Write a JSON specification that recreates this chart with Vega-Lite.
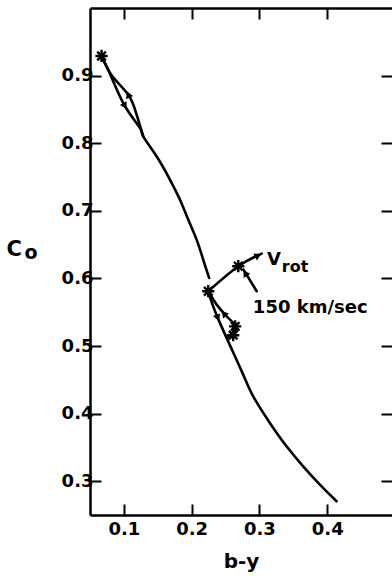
{
  "$schema": "https://vega.github.io/schema/vega-lite/v6.json",
  "width": 302,
  "height": 507,
  "autosize": {"type": "none"},
  "padding": {"left": 90, "top": 8, "right": 0, "bottom": 63},
  "background": "white",
  "config": {
    "view": {"stroke": null},
    "font": "DejaVu Sans",
    "axis": {
      "labelFont": "DejaVu Sans", "labelFontWeight": "bold", "labelFontSize": 18, "labelColor": "black",
      "titleFont": "DejaVu Sans", "titleFontWeight": "bold", "titleFontSize": 19, "titleColor": "black",
      "domainColor": "black", "domainWidth": 2.5, "tickColor": "black", "tickWidth": 2, "tickSize": -11, "grid": false
    }
  },
  "datasets": {
    "lines": [
      {"seg": "upper", "i": 0, "x": 0.067, "y": 0.929},
      {"seg": "upper", "i": 1, "x": 0.082, "y": 0.897},
      {"seg": "upper", "i": 2, "x": 0.1015, "y": 0.855},
      {"seg": "upper", "i": 3, "x": 0.1236, "y": 0.8226},
      {"seg": "upper", "i": 4, "x": 0.1285, "y": 0.8102},
      {"seg": "upper", "i": 5, "x": 0.1482, "y": 0.7806},
      {"seg": "upper", "i": 6, "x": 0.1679, "y": 0.7462},
      {"seg": "upper", "i": 7, "x": 0.1826, "y": 0.7166},
      {"seg": "upper", "i": 8, "x": 0.1949, "y": 0.687},
      {"seg": "upper", "i": 9, "x": 0.2073, "y": 0.6574},
      {"seg": "upper", "i": 10, "x": 0.217, "y": 0.6278},
      {"seg": "upper", "i": 11, "x": 0.2258, "y": 0.6007},
      {"seg": "loop1r", "i": 0, "x": 0.067, "y": 0.929},
      {"seg": "loop1r", "i": 1, "x": 0.083, "y": 0.899},
      {"seg": "loop1r", "i": 2, "x": 0.1064, "y": 0.8719},
      {"seg": "loop1r", "i": 3, "x": 0.1188, "y": 0.8423},
      {"seg": "loop1r", "i": 4, "x": 0.1285, "y": 0.8102},
      {"seg": "vrot", "i": 0, "x": 0.2245, "y": 0.581},
      {"seg": "vrot", "i": 1, "x": 0.2688, "y": 0.618},
      {"seg": "vrot", "i": 2, "x": 0.3034, "y": 0.6367},
      {"seg": "pointer", "i": 0, "x": 0.296, "y": 0.581},
      {"seg": "pointer", "i": 1, "x": 0.2765, "y": 0.613},
      {"seg": "lower", "i": 0, "x": 0.2245, "y": 0.581},
      {"seg": "lower", "i": 1, "x": 0.2385, "y": 0.5416},
      {"seg": "lower", "i": 2, "x": 0.2734, "y": 0.4636},
      {"seg": "lower", "i": 3, "x": 0.2908, "y": 0.4256},
      {"seg": "lower", "i": 4, "x": 0.3154, "y": 0.3862},
      {"seg": "lower", "i": 5, "x": 0.34, "y": 0.3516},
      {"seg": "lower", "i": 6, "x": 0.3645, "y": 0.322},
      {"seg": "lower", "i": 7, "x": 0.3892, "y": 0.295},
      {"seg": "lower", "i": 8, "x": 0.4138, "y": 0.2703},
      {"seg": "loop2r", "i": 0, "x": 0.2245, "y": 0.581},
      {"seg": "loop2r", "i": 1, "x": 0.2369, "y": 0.5612},
      {"seg": "loop2r", "i": 2, "x": 0.2517, "y": 0.5439},
      {"seg": "loop2r", "i": 3, "x": 0.2613, "y": 0.5342},
      {"seg": "loop2r", "i": 4, "x": 0.2663, "y": 0.5243},
      {"seg": "loop2r", "i": 5, "x": 0.2589, "y": 0.517},
      {"seg": "loop2r", "i": 6, "x": 0.2539, "y": 0.5128}
    ],
    "stars": [
      {"x": 0.067, "y": 0.929},
      {"x": 0.2245, "y": 0.581},
      {"x": 0.2688, "y": 0.618},
      {"x": 0.2642, "y": 0.529},
      {"x": 0.2613, "y": 0.516}
    ],
    "arrows": [
      {"x": 0.1015, "y": 0.855, "heading": 150.6},
      {"x": 0.1064, "y": 0.872, "heading": 337},
      {"x": 0.2385, "y": 0.5416, "heading": 159.5},
      {"x": 0.2475, "y": 0.548, "heading": 319.5},
      {"x": 0.298, "y": 0.634, "heading": 61.4},
      {"x": 0.279, "y": 0.608, "heading": 328}
    ],
    "labels": [
      {"kind": "main", "text": "V", "x": 0.311, "y": 0.6204},
      {"kind": "sub", "text": "rot", "x": 0.3331, "y": 0.610},
      {"kind": "main", "text": "150 km/sec", "x": 0.2903, "y": 0.5494}
    ]
  },
  "layer": [
    {
      "data": {"name": "lines"},
      "mark": {"type": "line", "interpolate": "natural", "stroke": "black", "strokeWidth": 2.6, "strokeCap": "round"},
      "encoding": {
        "x": {"field": "x", "type": "quantitative",
          "scale": {"domain": [0.05, 0.4956], "nice": false, "zero": false},
          "axis": {"orient": "bottom", "values": [0.1, 0.2, 0.3, 0.4], "format": ".1f", "title": "b-y", "labelPadding": 16, "titlePadding": 13, "titleFontSize": 20}},
        "y": {"field": "y", "type": "quantitative",
          "scale": {"domain": [0.25, 1.0], "nice": false, "zero": false},
          "axis": {"orient": "left", "values": [0.3, 0.4, 0.5, 0.6, 0.7, 0.8, 0.9], "format": ".1f", "title": "C", "labelPadding": 8, "titleFontSize": 21,
            "titleAngle": 0, "titleAlign": "left", "titleBaseline": "alphabetic", "titleX": -84, "titleY": 247}},
        "detail": {"field": "seg"},
        "order": {"field": "i", "type": "quantitative"}
      }
    },
    {
      "data": {"name": "stars"},
      "mark": {"type": "point", "shape": "M-1,0L1,0M0,-1L0,1M-0.7,-0.7L0.7,0.7M-0.7,0.7L0.7,-0.7", "filled": false, "stroke": "black", "strokeWidth": 2.4, "size": 150, "opacity": 1},
      "encoding": {
        "x": {"field": "x", "type": "quantitative",
          "axis": {"orient": "top", "values": [0.1, 0.2, 0.3, 0.4], "labels": false, "title": null}},
        "y": {"field": "y", "type": "quantitative",
          "axis": {"orient": "right", "values": [0.3, 0.4, 0.5, 0.6, 0.7, 0.8, 0.9], "labels": false, "domain": false,
            "title": "o", "titleFontSize": 19, "titleAngle": 0, "titleAlign": "left", "titleBaseline": "alphabetic", "titleX": -368, "titleY": 250}}
      }
    },
    {
      "data": {"name": "arrows"},
      "mark": {"type": "point", "shape": "triangle-up", "filled": true, "color": "black", "size": 60, "opacity": 1},
      "encoding": {
        "x": {"field": "x", "type": "quantitative", "axis": null},
        "y": {"field": "y", "type": "quantitative", "axis": null},
        "angle": {"field": "heading", "type": "quantitative", "scale": {"domain": [0, 360], "range": [0, 360]}}
      }
    },
    {
      "data": {"name": "labels"},
      "transform": [{"filter": "datum.kind === 'main'"}],
      "mark": {"type": "text", "align": "left", "baseline": "alphabetic", "font": "DejaVu Sans", "fontWeight": "bold", "fontSize": 18, "color": "black"},
      "encoding": {
        "x": {"field": "x", "type": "quantitative", "axis": null},
        "y": {"field": "y", "type": "quantitative", "axis": null},
        "text": {"field": "text"}
      }
    },
    {
      "data": {"name": "labels"},
      "transform": [{"filter": "datum.kind === 'sub'"}],
      "mark": {"type": "text", "align": "left", "baseline": "alphabetic", "font": "DejaVu Sans", "fontWeight": "bold", "fontSize": 16, "color": "black"},
      "encoding": {
        "x": {"field": "x", "type": "quantitative", "axis": null},
        "y": {"field": "y", "type": "quantitative", "axis": null},
        "text": {"field": "text"}
      }
    }
  ],
  "resolve": {"axis": {"x": "independent", "y": "independent"}}
}
